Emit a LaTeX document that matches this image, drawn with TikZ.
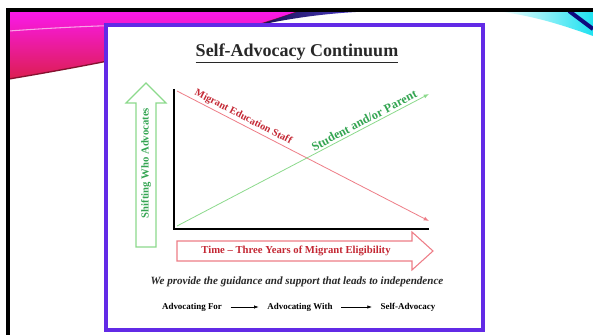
\documentclass[tikz,border=0pt]{standalone}
\usepackage{fontspec}
\setmainfont{Liberation Serif}
\usetikzlibrary{arrows.meta}

\definecolor{frameviolet}{RGB}{98,42,230}
\definecolor{staffred}{RGB}{196,40,52}
\definecolor{stafflight}{RGB}{238,125,135}
\definecolor{kidgreen}{RGB}{52,165,82}
\definecolor{kidlight}{RGB}{140,218,140}
\definecolor{swoopmagenta}{RGB}{250,25,235}
\definecolor{swoopred}{RGB}{220,30,80}
\definecolor{swoopnavy}{RGB}{20,12,70}
\definecolor{swoopblue}{RGB}{90,70,230}
\definecolor{swoopcyan}{RGB}{30,225,240}
\definecolor{inkgrey}{RGB}{40,40,40}

\begin{document}
\begin{tikzpicture}[x=0.75pt,y=-0.75pt,
				titlebox/.style={font=\fontsize{13.5}{16}\selectfont\bfseries, text=inkgrey},
				axisline/.style={draw=black, line width=1.5pt},
				staffline/.style={draw=stafflight, line width=0.6pt, -{Latex[length=4pt,width=3pt]}},
				kidline/.style={draw=kidlight, line width=0.6pt, -{Latex[length=4pt,width=3pt]}},
				stafflabel/.style={font=\fontsize{7.7}{9}\selectfont\bfseries, text=staffred, inner sep=1.5pt},
				kidlabel/.style={font=\fontsize{9.2}{11}\selectfont\bfseries, text=kidgreen, inner sep=1.5pt},
				bigarrowG/.style={draw=kidlight, line width=0.8pt, fill=white},
				bigarrowR/.style={draw=stafflight, line width=0.8pt, fill=white},
				motto/.style={font=\fontsize{8.3}{10}\selectfont\bfseries\itshape, text=inkgrey},
				stage/.style={font=\fontsize{6.7}{8}\selectfont\bfseries, text=black},
				stagearrow/.style={draw=black, line width=0.5pt, -{Latex[length=3.5pt,width=2.5pt]}, shorten <=3pt, shorten >=3pt}]
	\useasboundingbox (0,0) rectangle (593,335);
	\fill[white] (0,0) rectangle (593,335);
	% slide decoration
	\shade[top color=swoopmagenta, bottom color=swoopred] (9,11) -- (300,11) .. controls (220,40) and (110,62) .. (9,79) -- cycle;
	\draw[swoopred!60!black, line width=1pt] (300,11) .. controls (220,40) and (110,62) .. (9,79);
	\draw[white, opacity=0.6, line width=0.8pt] (9,31) .. controls (50,28) and (90,26) .. (130,25);
	\shade[left color=swoopnavy, right color=swoopblue] (255,26) .. controls (300,16) and (340,12) .. (380,11) -- (300,11) .. controls (285,16) and (270,21) .. (255,26);
	\shade[left color=white, right color=swoopcyan] (495,11) -- (593,11) -- (593,36) .. controls (560,24) and (530,15) .. (495,11);
	\draw[swoopnavy!70!blue, line width=3pt] (569,11) -- (593,29);
	\draw[black, line width=3pt] (7.5,335) -- (7.5,10.5) -- (593,10.5);
	% slide body
	\draw[frameviolet, line width=3pt, fill=white] (106,25) rectangle (483,330);
	\node[titlebox] (title) at (297,53) {\underline{Self-Advocacy Continuum}};
	\draw[bigarrowG] (136,247) -- (136,103) -- (126,103) -- (146,83) -- (166,103) -- (156,103) -- (156,247) -- cycle;
	\node[rotate=90, kidlabel, font=\fontsize{8}{10}\selectfont\bfseries] (who) at (146,163) {Shifting Who Advocates};
	\draw[bigarrowR] (177,241) -- (412,241) -- (412,232) -- (433,251) -- (412,270) -- (412,261) -- (177,261) -- cycle;
	\node[stafflabel, font=\fontsize{8}{10}\selectfont\bfseries] (time) at (296,251) {Time -- Three Years of Migrant Eligibility};
	\coordinate (origin) at (174,229);
	\coordinate (ytop) at (174,89);
	\coordinate (xend) at (429,229);
	\coordinate (staffA) at (177,91);
	\coordinate (staffB) at (429,221);
	\coordinate (kidA) at (177,226);
	\coordinate (kidB) at (429,94);
	\draw[staffline] (staffA) -- (staffB) node[pos=0.25, sloped, above, stafflabel] (staff) {Migrant Education Staff};
	\draw[kidline] (kidA) -- (kidB) node[pos=0.755, sloped, above, kidlabel] (kid) {Student and/or Parent};
	\draw[axisline] (ytop) -- (origin) -- (xend);
	\node[motto] (motto) at (297,282) {We provide the guidance and support that leads to independence};
	\node[stage] (for) at (192,307) {Advocating For};
	\node[stage] (with) at (300,307) {Advocating With};
	\node[stage] (self) at (408,307) {Self-Advocacy};
	\draw[stagearrow] (for) -- (with);
	\draw[stagearrow] (with) -- (self);
\end{tikzpicture}
\end{document}
